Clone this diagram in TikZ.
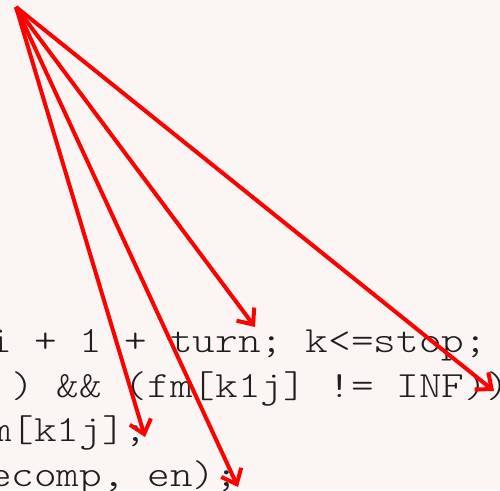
\documentclass[tikz,border=0pt]{standalone}
\usepackage{fontspec}
\usepackage{tikz}
\usetikzlibrary{arrows.meta}
\newfontfamily\codefont{lmmonolt10-regular.otf}
\definecolor{paper}{RGB}{251,246,243}
\definecolor{ink}{RGB}{30,30,30}
\newcommand{\codetext}[1]{\scalebox{1.165}[1]{#1}}

\begin{document}
\begin{tikzpicture}[x=1pt,y=-1pt,
  codeline/.style={anchor=base west,inner sep=0pt,text=ink,font=\codefont\fontsize{37}{44}\selectfont},
  pointer/.style={draw=red,line width=4pt,-{Straight Barb[length=13pt,width=22pt]}}]
\fill[paper] (0,0) rectangle (500,490);
\useasboundingbox (0,0) rectangle (500,490);
\begin{scope}
\clip (0,0) rectangle (500,490);
\node[codeline] (l1) at (-11.1,352) {\codetext{i + 1 + turn; k<=stop;}};
\node[codeline] (l2) at (-11.1,397) {\codetext{\ ) \&\& (fm[k1j] != INF))}};
\node[codeline] (l3) at (-11.1,441) {\codetext{m[k1j];}};
\node[codeline] (l4) at (-11.1,486) {\codetext{ecomp, en);}};
\end{scope}
\coordinate (src) at (16,7);
\coordinate (a) at (255,327);
\coordinate (b) at (494,391);
\coordinate (c) at (145,437);
\coordinate (d) at (238,487);
\foreach \n in {a,b,c,d} {
   \draw[pointer] (src) -- (\n);
}
\end{tikzpicture}
\end{document}
